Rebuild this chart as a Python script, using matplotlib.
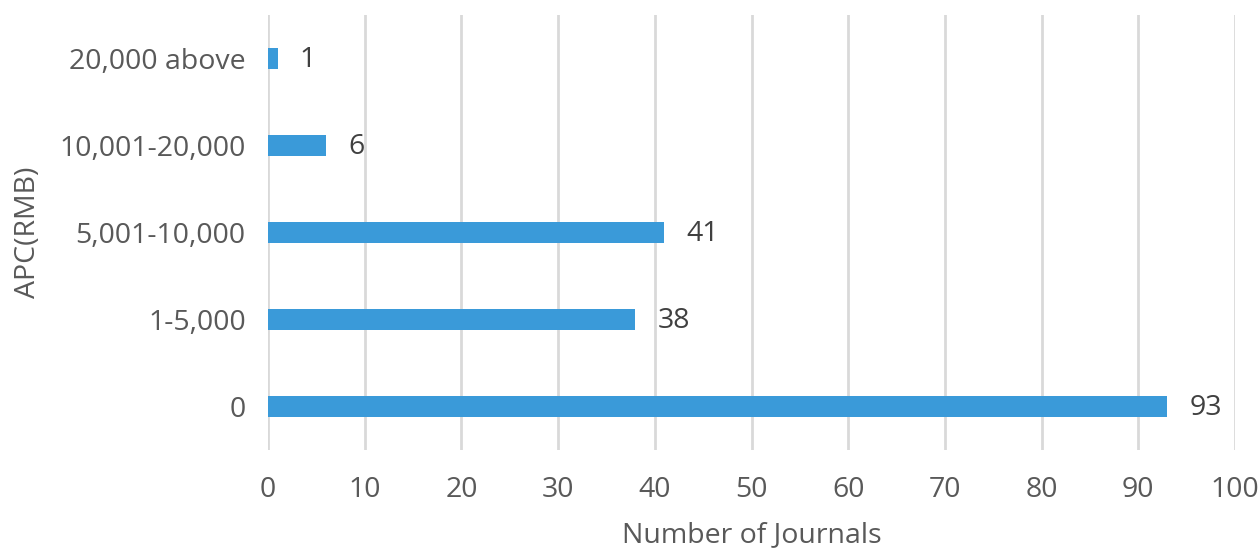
import matplotlib.pyplot as plt

# Journals grouped by article processing charge
categories = ['0', '1-5,000', '5,001-10,000', '10,001-20,000', '20,000 above']
journals = [93, 38, 41, 6, 1]
x_ticks = list(range(0, 101, 10))

plt.rcParams['font.family'] = ['Open Sans', 'DejaVu Sans']
fs = 20.5

fig = plt.figure(figsize=(12.58, 5.51), dpi=100)
ax = fig.add_axes([268 / 1258, 1 - 450 / 551, (1235 - 268) / 1258, 435 / 551])

pos = list(range(len(categories)))
ax.barh(pos, journals, height=0.25, color='#3A9AD9', zorder=3)

for y, v in zip(pos, journals):
    ax.annotate(str(v), (v, y), xytext=(16, -1), textcoords='offset points',
                ha='left', va='center', fontsize=fs, color='#404040')

ax.set_xlim(0, 100)
ax.set_ylim(-0.5, len(categories) - 0.5)
ax.set_xticks(x_ticks)
ax.set_yticks(pos)
ax.set_yticklabels(categories)
ax.tick_params(axis='both', length=0, labelsize=fs, labelcolor='#595959')
ax.tick_params(axis='y', pad=16)
ax.tick_params(axis='x', pad=19)
ax.grid(axis='x', color='#D9D9D9', linewidth=2, zorder=0)
for s in ax.spines.values():
    s.set_visible(False)

ax.set_xlabel('Number of Journals', fontsize=fs, color='#595959', labelpad=12)
ax.set_ylabel('APC(RMB)', fontsize=fs, color='#595959', labelpad=12.5)

fig.savefig('out.png', dpi=100, facecolor='white')
